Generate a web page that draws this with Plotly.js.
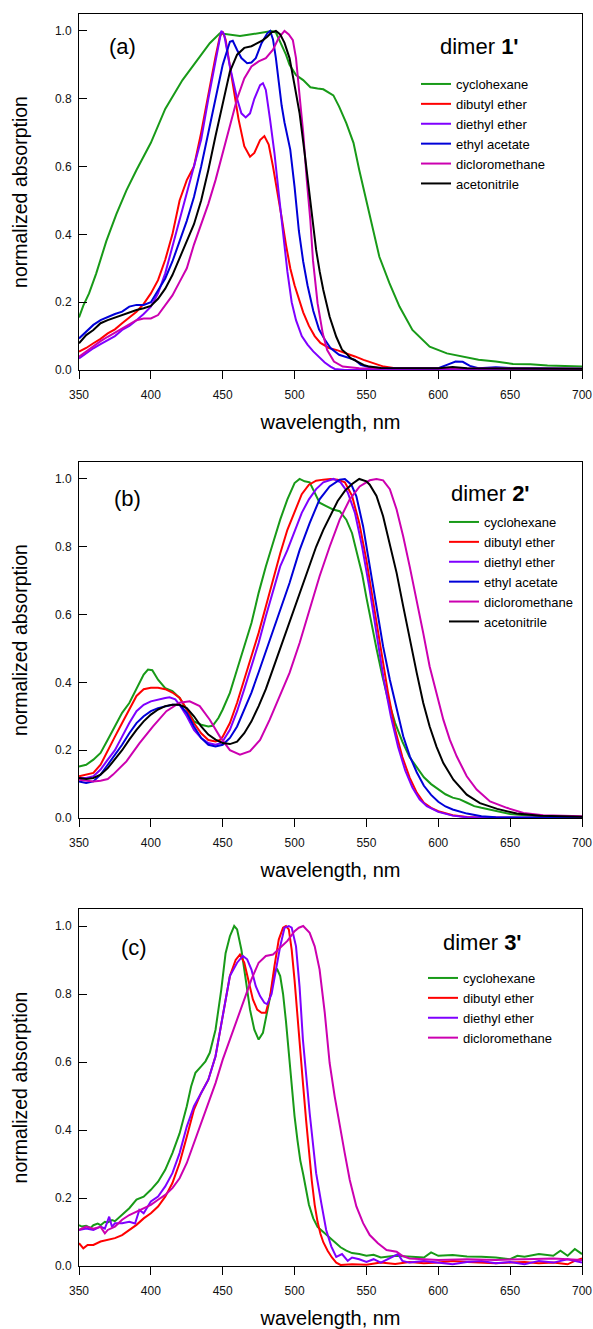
<!DOCTYPE html>
<html>
<head>
<meta charset="utf-8">
<script src="https://cdn.plot.ly/plotly-3.0.1.min.js"></script>
<style>html,body{margin:0;padding:0;background:#fff;}#chart{width:593px;height:1329px;}</style>
</head>
<body>
<div id="chart"></div>
<script>
// ---------- legend names / colours ----------
const solvents = ["cyclohexane","dibutyl ether","diethyl ether","ethyl acetate","dicloromethane","acetonitrile"];
const panelTitles = ["dimer <b>1'</b>","dimer <b>2'</b>","dimer <b>3'</b>"];
const panelLabels = ["(a)","(b)","(c)"];
const xTickVals = [350,400,450,500,550,600,650,700];
const yTickVals = [0,0.2,0.4,0.6,0.8,1.0];

// ---------- panel (a): dimer 1' ----------
const aCycloX = [350,353,357,362,369,376,383,390,400,410,422,434,441,448,455,462,470,477,484,487,491,494,496.5,501,506,511,516,520,527,531,536,541,545,550,555,559,566,573,582,594,606,617,628,640,652,664,676,688,700];
const aCycloY = [0.155,0.19,0.226,0.285,0.38,0.46,0.53,0.59,0.67,0.77,0.855,0.924,0.964,0.993,0.99,0.985,0.99,0.995,1.0,0.995,0.96,0.93,0.90,0.87,0.855,0.834,0.83,0.828,0.81,0.777,0.728,0.67,0.59,0.50,0.413,0.334,0.256,0.187,0.118,0.069,0.049,0.039,0.03,0.025,0.018,0.017,0.013,0.012,0.01];
const aDibutX = [350,355,360,365,370,375,380,385,390,395,400,405,410,415,420,425,430,435,440,445,448,450,452,455,458,461,465,469,472,476,479,482,485,488,491,494,497,500,503,506,510,514,518,524,530,536,542,548,555,562,570,590,620,650,680,700];
const aDibutY = [0.054,0.065,0.079,0.092,0.108,0.12,0.138,0.155,0.172,0.195,0.226,0.265,0.325,0.40,0.50,0.56,0.60,0.70,0.816,0.924,0.983,0.998,0.975,0.90,0.82,0.74,0.66,0.629,0.64,0.678,0.69,0.665,0.60,0.53,0.45,0.37,0.30,0.25,0.21,0.17,0.13,0.10,0.08,0.065,0.058,0.05,0.04,0.03,0.02,0.01,0.005,0.004,0.003,0.004,0.003,0.003];
const aDiethX = [350,355,360,365,370,375,380,385,390,395,400,405,410,415,420,425,430,435,440,445,449,451,455,460,463,466,469,472,476,478,480,483,486,489,492,495,498,501,505,509,513,517,521,525,528,535,700];
const aDiethY = [0.034,0.05,0.064,0.076,0.088,0.10,0.118,0.13,0.147,0.165,0.187,0.226,0.285,0.364,0.442,0.52,0.60,0.68,0.80,0.915,1.0,0.99,0.895,0.80,0.757,0.745,0.757,0.80,0.84,0.846,0.826,0.737,0.64,0.52,0.40,0.29,0.20,0.147,0.10,0.075,0.055,0.038,0.022,0.01,0.003,0,0];
const aEthylX = [350,355,360,365,370,375,380,385,390,395,400,405,410,415,420,425,430,435,440,445,450,455,457,460,463,467,470,473,477,481,483,485,487,489,491,493,495,497,500,503,506,509,513,517,521,525,531,538,542,546,552,560,580,600,606,612,617,622,628,640,650,670,700];
const aEthylY = [0.093,0.113,0.133,0.147,0.157,0.165,0.172,0.187,0.192,0.192,0.20,0.236,0.27,0.32,0.38,0.44,0.51,0.60,0.70,0.80,0.90,0.968,0.971,0.944,0.92,0.905,0.907,0.92,0.964,0.993,1.0,0.975,0.92,0.85,0.78,0.73,0.69,0.65,0.54,0.41,0.32,0.25,0.175,0.12,0.09,0.065,0.045,0.035,0.03,0.015,0.008,0.006,0.005,0.005,0.015,0.025,0.024,0.012,0.005,0.008,0.006,0.005,0.004];
const aDicloX = [350,355,360,365,370,375,380,385,390,395,400,405,410,415,420,425,430,435,440,445,450,455,460,465,470,475,480,485,489,493,496,498.8,501,503.7,506,508.5,511,512.8,516,519.6,522.7,527.4,533.5,545,700];
const aDicloY = [0.039,0.055,0.069,0.085,0.098,0.11,0.123,0.135,0.147,0.152,0.152,0.162,0.19,0.22,0.26,0.30,0.37,0.43,0.49,0.56,0.64,0.72,0.80,0.86,0.895,0.91,0.92,0.945,0.98,1.0,0.99,0.973,0.92,0.80,0.70,0.56,0.44,0.324,0.197,0.108,0.059,0.025,0.01,0.005,0.004];
const aAcetoX = [350,355,360,365,370,375,380,385,390,395,400,405,410,415,420,425,430,435,440,445,450,455,460,465,470,475,478,481,484,487,490,493,496.5,500,503.5,507,510.5,513,515,517.5,520,524.4,529,533,536,539,543,548,552,560,600,610,620,700];
const aAcetoY = [0.079,0.103,0.118,0.138,0.147,0.155,0.162,0.17,0.177,0.182,0.189,0.21,0.24,0.28,0.33,0.38,0.43,0.50,0.59,0.69,0.79,0.88,0.93,0.95,0.955,0.965,0.973,0.983,0.996,1.0,0.99,0.965,0.92,0.84,0.757,0.64,0.52,0.43,0.354,0.29,0.236,0.157,0.098,0.06,0.049,0.035,0.025,0.015,0.01,0.006,0.005,0.009,0.005,0.004];

// ---------- panel (b): dimer 2' ----------
const bCycloX = [350,355,360,365,370,375,380,385,390,395,398,401,405,410,415,420,425,430,435,440,443,447,450,455,460,465,470,475,480,485,490,495,500,503.5,507,510.5,514,517.4,522,526.7,531.4,536,540,543,547,550,554,557,561,565,570,575,580,585,590,595,600,605,610,615,620,625,630,635,640,650,660,670,700];
const bCycloY = [0.152,0.157,0.172,0.192,0.231,0.27,0.31,0.339,0.379,0.423,0.438,0.436,0.408,0.383,0.374,0.354,0.32,0.285,0.275,0.27,0.272,0.295,0.32,0.369,0.438,0.506,0.575,0.664,0.742,0.811,0.88,0.94,0.988,1.0,0.993,0.99,0.96,0.93,0.92,0.91,0.905,0.88,0.84,0.79,0.72,0.65,0.56,0.50,0.42,0.35,0.28,0.225,0.18,0.15,0.12,0.10,0.085,0.07,0.06,0.055,0.045,0.035,0.03,0.025,0.02,0.012,0.008,0.005,0.003];
const bDibutX = [350,355,360,365,370,375,380,385,390,395,400,405,410,415,420,425,430,435,440,445,448,450,455,460,465,470,475,480,485,490,495,500,505,510,515,520,525,530,535,540,545,550,555,560,565,570,575,580,585,590,595,600,610,620,630,700];
const bDibutY = [0.123,0.128,0.133,0.157,0.2,0.24,0.28,0.32,0.36,0.38,0.384,0.384,0.38,0.37,0.355,0.32,0.28,0.25,0.23,0.226,0.23,0.24,0.28,0.34,0.41,0.477,0.546,0.624,0.703,0.78,0.85,0.90,0.955,0.983,0.995,0.998,1.0,0.998,0.99,0.95,0.87,0.76,0.63,0.50,0.37,0.26,0.18,0.12,0.075,0.045,0.03,0.02,0.008,0.003,0.001,0];
const bDiethX = [350,355,360,365,370,375,380,385,390,395,400,405,410,413,417,420,425,430,435,440,445,448,450,455,460,465,470,475,480,485,490,495,500,505,510,515,520,527,532,537,542,547,552,557,562,567,572,577,582,587,592,600,610,620,700];
const bDiethY = [0.118,0.118,0.123,0.143,0.172,0.2,0.24,0.28,0.315,0.334,0.344,0.35,0.354,0.356,0.35,0.334,0.30,0.26,0.236,0.221,0.216,0.22,0.226,0.26,0.315,0.38,0.447,0.516,0.595,0.67,0.742,0.79,0.845,0.90,0.94,0.97,0.99,1.0,0.99,0.96,0.90,0.80,0.68,0.54,0.41,0.30,0.21,0.14,0.09,0.055,0.035,0.018,0.007,0.002,0];
const bEthylX = [350,355,360,365,370,375,380,385,390,395,400,405,410,415,420,425,430,435,440,445,450,455,460,465,470,475,480,485,490,496.5,503.5,510.5,517.4,524.4,531.4,535,539.5,543,547.7,552.3,557,561.6,566.3,571,575.6,580.2,585,590,595,600,605,610,620,630,640,700];
const bEthylY = [0.108,0.103,0.108,0.128,0.157,0.187,0.216,0.25,0.28,0.30,0.315,0.324,0.33,0.334,0.334,0.31,0.27,0.236,0.216,0.211,0.216,0.236,0.27,0.32,0.37,0.43,0.49,0.55,0.61,0.693,0.79,0.87,0.94,0.978,0.998,1.0,0.983,0.949,0.86,0.742,0.625,0.506,0.408,0.32,0.241,0.182,0.135,0.095,0.068,0.048,0.034,0.025,0.013,0.005,0.002,0];
const bDicloX = [350,355,360,365,370,373.7,378,383,392,401.5,410.8,420,427,434,441,448,455,462,469,476,482.7,489.7,496.5,503.5,510.5,517.4,524.4,531.4,538.4,545.3,552.3,557,561.6,566.3,571,575.6,580.2,585,589.5,594,598.8,603.5,608,612.8,619.8,626.7,636,647.7,659.3,673,700];
const bDicloY = [0.113,0.11,0.108,0.11,0.115,0.128,0.145,0.167,0.22,0.27,0.315,0.34,0.344,0.33,0.29,0.24,0.20,0.187,0.197,0.23,0.29,0.36,0.428,0.516,0.615,0.713,0.80,0.88,0.94,0.978,0.996,1.0,0.996,0.97,0.91,0.83,0.74,0.644,0.546,0.447,0.369,0.29,0.231,0.182,0.123,0.084,0.049,0.03,0.015,0.008,0.005];
const bAcetoX = [350,355,360,365,370,375,380,385,390,395,400,405,410,415,420,425,430,435,440,445,450,455,460,465,470,475,480,485,490,495,500,505,510,515,520,525,530,535,540,545,550,552.3,557,561.6,566.3,571,575.6,580.2,585,589.5,594,598.8,603.5,610.5,619.8,629,641,654.6,671,700];
const bAcetoY = [0.118,0.115,0.118,0.128,0.147,0.172,0.20,0.231,0.26,0.285,0.305,0.32,0.33,0.334,0.334,0.324,0.30,0.27,0.246,0.231,0.221,0.218,0.225,0.25,0.285,0.33,0.38,0.44,0.50,0.56,0.62,0.68,0.74,0.80,0.85,0.895,0.935,0.965,0.985,1.0,0.993,0.983,0.95,0.89,0.81,0.723,0.624,0.526,0.428,0.34,0.27,0.21,0.162,0.113,0.069,0.044,0.027,0.013,0.007,0.004];

// ---------- panel (c): dimer 3' ----------
const cCycloX = [350,352,355,358,360,363,365,368,370,373,375,380,385,390,395,400,405,410,415,420,425,428,431,435,438,441,445,449,452,455,458,460,463,466,469,472,475,478,481,484,486,488,490,492,494,496,498,500,502,504,506,508,510,513,516,520,524,528,532,536,540,545,550,555,560,570,580,590,595,600,610,620,630,640,650,655,660,670,680,685,690,695,700];
const cCycloY = [0.12,0.116,0.118,0.112,0.12,0.125,0.12,0.13,0.128,0.135,0.132,0.15,0.17,0.195,0.204,0.224,0.248,0.283,0.332,0.39,0.47,0.528,0.568,0.587,0.602,0.627,0.695,0.813,0.92,0.97,1.0,0.99,0.93,0.843,0.754,0.695,0.666,0.686,0.745,0.813,0.867,0.872,0.853,0.80,0.72,0.62,0.52,0.44,0.37,0.31,0.27,0.22,0.18,0.14,0.115,0.10,0.085,0.07,0.055,0.045,0.038,0.035,0.03,0.033,0.025,0.03,0.028,0.025,0.04,0.03,0.032,0.028,0.027,0.025,0.02,0.03,0.027,0.035,0.03,0.045,0.03,0.05,0.035];
const cDibutX = [350,353,356,360,365,370,375,380,385,390,395,400,405,410,415,420,425,430,435,440,445,450,455,459,462,465,468,471,474,477,480,483,486,489,492,494,496,498,500,502,504,506,508,510,512,514,516,518,520,523,526,529,532,540,550,560,570,580,590,600,610,620,630,640,650,660,670,680,690,695,700];
const cDibutY = [0.067,0.052,0.062,0.062,0.072,0.077,0.082,0.091,0.106,0.121,0.14,0.155,0.175,0.204,0.244,0.303,0.38,0.46,0.509,0.548,0.617,0.735,0.853,0.90,0.916,0.892,0.833,0.784,0.754,0.745,0.745,0.794,0.882,0.96,0.995,1.0,0.99,0.93,0.84,0.73,0.63,0.53,0.43,0.33,0.25,0.18,0.13,0.095,0.07,0.045,0.025,0.01,0.003,0.005,0.004,0.01,0.006,0.012,0.008,0.01,0.015,0.012,0.01,0.008,0.01,0.012,0.008,0.01,0.005,0.015,0.022];
const cDiethX = [350,355,360,365,368,371,373,375,380,385,389,392,395,400,405,410,415,420,425,430,435,440,445,450,455,460,464,467,470,473,476,479,481,484,487,490,493,496,498,501,503.5,505.8,510.5,515,518.6,522,525.6,529,533,537,540,545,550,555,560,565,572,575,580,590,600,610,620,630,640,650,660,670,680,690,700];
const cDiethY = [0.106,0.11,0.106,0.116,0.11,0.145,0.115,0.126,0.126,0.13,0.125,0.165,0.155,0.19,0.204,0.234,0.273,0.332,0.41,0.47,0.509,0.548,0.617,0.735,0.853,0.892,0.912,0.902,0.872,0.823,0.794,0.774,0.77,0.80,0.872,0.94,0.995,1.0,0.995,0.94,0.82,0.666,0.45,0.273,0.185,0.106,0.057,0.027,0.035,0.015,0.025,0.02,0.012,0.02,0.01,0.02,0.035,0.015,0.01,0.015,0.01,0.005,0.012,0.015,0.008,0.012,0.005,0.015,0.01,0.02,0.01];
const cDicloX = [350,355,360,365,368,370,375,380,385,390,395,400,405,410,415,420,425,430,435,440,445,450,455,460,465,470,475,480,485,490,495,500,503,506,510.5,514,517.4,521,524.4,527.9,531.4,534.9,538.4,543,547.7,552.3,558,564,571,575,580,590,600,620,640,660,680,700];
const cDicloY = [0.106,0.116,0.11,0.115,0.096,0.106,0.116,0.136,0.15,0.16,0.17,0.18,0.195,0.209,0.229,0.258,0.303,0.361,0.42,0.479,0.538,0.607,0.666,0.725,0.784,0.843,0.892,0.912,0.916,0.936,0.956,0.985,0.995,1.0,0.98,0.94,0.872,0.745,0.597,0.499,0.41,0.332,0.253,0.175,0.126,0.091,0.067,0.047,0.042,0.03,0.022,0.02,0.018,0.02,0.018,0.02,0.022,0.018];

const colors = {
  "cyclohexane": "#189a18",
  "dibutyl ether": "#ff0000",
  "diethyl ether": "#7f00ff",
  "ethyl acetate": "#0000d8",
  "dicloromethane": "#cc00b0",
  "acetonitrile": "#000000"
};

const panels = [
  {xs:[aCycloX,aDibutX,aDiethX,aEthylX,aDicloX,aAcetoX], ys:[aCycloY,aDibutY,aDiethY,aEthylY,aDicloY,aAcetoY], names:solvents},
  {xs:[bCycloX,bDibutX,bDiethX,bEthylX,bDicloX,bAcetoX], ys:[bCycloY,bDibutY,bDiethY,bEthylY,bDicloY,bAcetoY], names:solvents},
  {xs:[cCycloX,cDibutX,cDiethX,cDicloX], ys:[cCycloY,cDibutY,cDiethY,cDicloY], names:["cyclohexane","dibutyl ether","diethyl ether","dicloromethane"]}
];

const FONT = "Liberation Sans, Arial, Helvetica, sans-serif";
const traces = [];
panels.forEach((p, i) => {
  const sfx = i === 0 ? "" : String(i + 1);
  p.names.forEach((nm, k) => {
    traces.push({
      type: "scatter", mode: "lines",
      x: p.xs[k], y: p.ys[k], name: nm,
      xaxis: "x" + sfx, yaxis: "y" + sfx,
      legend: "legend" + sfx,
      line: {color: colors[nm], width: 2},
      hoverinfo: "skip"
    });
  });
});

// geometry helpers (pixel -> paper)
const L = 79, R = 11, T = 14, B = 63, W = 593, H = 1329;
const PW = W - L - R, PH = H - T - B;
const px = v => (v - L) / PW;
const py = v => (H - B - v) / PH;

function xAxis(anchor) {
  return {
    anchor: anchor, domain: [0, 1], range: [350, 700],
    tickvals: xTickVals, ticks: "outside", ticklen: 8, tickcolor: "#000", tickwidth: 1,
    showline: true, linecolor: "#000", linewidth: 1, mirror: true,
    showgrid: false, zeroline: false, ticklabelstandoff: 6,
    tickfont: {family: FONT, size: 12, color: "#111"},
    title: {text: "wavelength, nm", font: {family: FONT, size: 20, color: "#000"}, standoff: 13}
  };
}
function yAxis(anchor, dom) {
  return {
    anchor: anchor, domain: dom, range: [0, 1.05],
    tickvals: yTickVals, tickformat: ".1f", ticks: "inside", ticklen: 8, tickcolor: "#000", tickwidth: 1,
    showline: true, linecolor: "#000", linewidth: 1, mirror: true,
    showgrid: false, zeroline: false, ticklabelstandoff: 4,
    tickfont: {family: FONT, size: 12, color: "#111"},
    title: {text: "normalized absorption", font: {family: FONT, size: 19.5, color: "#000"}, standoff: 22}
  };
}
function legendAt(xp, yp) {
  return {x: px(xp), y: py(yp), xanchor: "left", yanchor: "top",
          bgcolor: "rgba(0,0,0,0)", borderwidth: 0, tracegroupgap: 0,
          font: {family: FONT, size: 13, color: "#000"}};
}

const annPos = [
  {lab: [122, 47], tit: [479, 47]},
  {lab: [127.5, 498], tit: [490, 493]},
  {lab: [134, 947], tit: [482.5, 942]}
];
const annotations = [];
annPos.forEach((a, i) => {
  annotations.push({xref: "paper", yref: "paper", x: px(a.lab[0]), y: py(a.lab[1]), xanchor: "center", yanchor: "middle",
    text: panelLabels[i], showarrow: false, font: {family: FONT, size: 22, color: "#000"}});
  annotations.push({xref: "paper", yref: "paper", x: px(a.tit[0]), y: py(a.tit[1]), xanchor: "center", yanchor: "middle",
    text: panelTitles[i], showarrow: false, font: {family: FONT, size: 22, color: "#000"}});
});

const layout = {
  width: W, height: H,
  margin: {l: L, r: R, t: T, b: B},
  paper_bgcolor: "#fff", plot_bgcolor: "#fff",
  showlegend: true,
  xaxis: xAxis("y"), yaxis: yAxis("x", [py(370), 1]),
  xaxis2: xAxis("y2"), yaxis2: yAxis("x2", [py(818), py(462)]),
  xaxis3: xAxis("y3"), yaxis3: yAxis("x3", [0, py(909)]),
  legend: legendAt(416, 69),
  legend2: legendAt(444, 507),
  legend3: legendAt(423, 963),
  annotations: annotations
};

Plotly.newPlot("chart", traces, layout, {displayModeBar: false, staticPlot: true});
</script>
</body>
</html>
